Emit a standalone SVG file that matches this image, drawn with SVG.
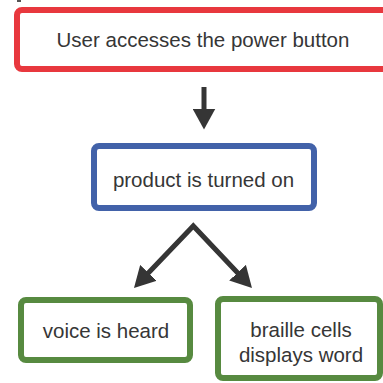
<svg xmlns="http://www.w3.org/2000/svg" width="383" height="383" viewBox="0 0 383 383">
  <defs>
    <style>
      .box { fill: #ffffff; stroke-width: 6; }
      .red { stroke: #e8383e; }
      .blue { stroke: #4262a9; }
      .green { stroke: #578a40; }
      .label { font-family: "Liberation Sans", Arial, sans-serif; font-size: 20.5px; fill: #363636; text-anchor: middle; }
      .conn { fill: none; stroke: #353535; stroke-width: 5; stroke-linejoin: miter; }
    </style>
    <marker id="head" markerUnits="userSpaceOnUse" markerWidth="22" markerHeight="23" refX="11" refY="11.5" orient="auto-start-reverse" viewBox="0 0 22 23">
      <path d="M0,0 L21,11.5 L0,23 z" fill="#353535"/>
    </marker>
  </defs>
  <rect width="383" height="383" fill="#ffffff"/>
  <rect x="17" y="0" width="4" height="2" fill="#555555"/>

  <g id="node-power">
    <rect class="box red" x="17" y="10" width="380" height="59" rx="5"/>
    <text class="label" x="203" y="47">User accesses the power button</text>
  </g>

  <g id="node-on">
    <rect class="box blue" x="94" y="146" width="220" height="62" rx="5"/>
    <text class="label" x="203.5" y="187">product is turned on</text>
  </g>

  <g id="node-voice">
    <rect class="box green" x="21" y="300" width="169" height="60" rx="5"/>
    <text class="label" x="106" y="338">voice is heard</text>
  </g>

  <g id="node-braille">
    <rect class="box green" x="218" y="299" width="162" height="79" rx="5"/>
    <text class="label" x="301" y="337">braille cells</text>
    <text class="label" x="301" y="362">displays word</text>
  </g>

  <g id="connectors">
    <path class="conn" d="M204,87 L204,119.5" marker-end="url(#head)"/>
    <path class="conn" d="M140.9,280.8 L193.3,226 L245.1,280.7" marker-start="url(#head)" marker-end="url(#head)"/>
  </g>
</svg>
